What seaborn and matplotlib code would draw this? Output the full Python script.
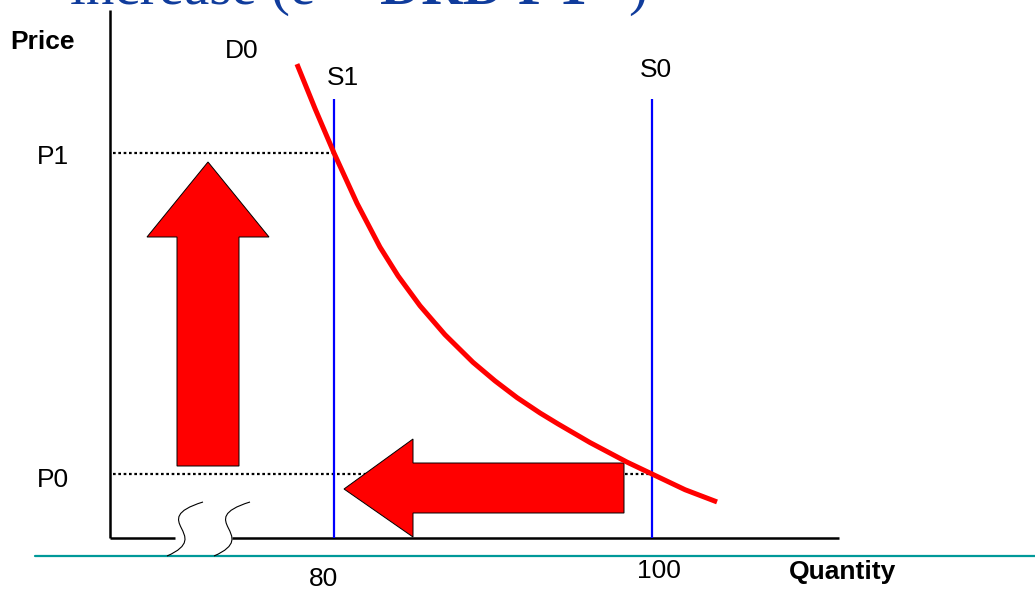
import matplotlib
matplotlib.use("Agg")
import matplotlib.pyplot as plt
import numpy as np
import pandas as pd
import seaborn as sns
from matplotlib.patches import Polygon, PathPatch
from matplotlib.path import Path

# ---------------- data ----------------
demand_quantity = [77.67, 78.81, 80.00, 81.45, 82.89, 84.03, 85.41, 86.98, 88.74,
                   90.13, 91.51, 92.96, 94.09, 96.10, 98.43, 100.00, 102.08, 104.09]
demand_price = [22.77, 21.38, 20.00, 18.43, 17.07, 16.17, 15.24, 14.34, 13.48,
                12.90, 12.38, 11.90, 11.56, 10.98, 10.37, 10.00, 9.51, 9.13]
supply_quantity = [80, 100]
supply_labels = ["S1", "S0"]
price_levels = [10, 20]
price_labels = ["P0", "P1"]
equilibrium_quantity = [100, 80]
quantity_ticks = [80, 100]
quantity_tick_labels = ["80", "100"]
demand_label = "D0"
title_text = "increase (e = "
title_bold = "DRD FY"

# ---------------- style ----------------
sns.set_theme(style="white")
plt.rcParams["font.family"] = ["Liberation Sans", "DejaVu Sans"]
plt.rcParams["text.color"] = "black"

W, H = 1035, 592
fig = plt.figure(figsize=(W / 100, H / 100), dpi=100)
ax = fig.add_axes([0, 0, 1, 1])

# pixel layout of the data scale
PX_Q80, PX_Q100 = 334, 652
PY_P1, PY_P0 = 153, 474
qs = (PX_Q100 - PX_Q80) / (100 - 80)
ps = (PY_P0 - PY_P1) / (20 - 10)


def d(px, py):
    return 80 + (px - PX_Q80) / qs, 20 - (py - PY_P1) / ps


x0, y0 = d(0, H)
x1, y1 = d(W, 0)

origin_q, origin_p = d(110, 538)
top_q, top_p = d(110, 10)
supply_top = d(0, 99)[1]

# axes lines (with break on the quantity axis)
ax.plot([origin_q, origin_q], [origin_p, top_p], color="black", lw=1.8,
        solid_capstyle="butt", zorder=3)
brk_a = d(175, 538)[0]
brk_b = d(232, 538)[0]
end_q = d(839, 538)[0]
ax.plot([origin_q, brk_a], [origin_p, origin_p], color="black", lw=1.8,
        solid_capstyle="butt", zorder=3)
ax.plot([brk_b, end_q], [origin_p, origin_p], color="black", lw=1.8,
        solid_capstyle="butt", zorder=3)

# break squiggles
for off in (0, 47):
    pts = [d(203 + off, 502), d(145 + off, 520), d(215 + off, 535), d(167 + off, 556)]
    path = Path(pts, [Path.MOVETO, Path.CURVE4, Path.CURVE4, Path.CURVE4])
    ax.add_patch(PathPatch(path, fill=False, edgecolor="black", lw=0.8, zorder=4))

# teal rule
tq0 = d(35, 556)
tq1 = d(W, 556)
ax.plot([tq0[0], tq1[0]], [tq0[1], tq1[1]], color="#009999", lw=1.6, zorder=2)

# dotted price lines
ax.hlines(price_levels, xmin=d(113, 0)[0], xmax=equilibrium_quantity,
          colors="black", linestyles=(0, (1.2, 1.2)), lw=1.6, zorder=2)

# supply lines
ax.vlines(supply_quantity, ymin=origin_p, ymax=supply_top, colors="#0000FF",
          lw=1.6, zorder=3)

# arrows
up = [(177, 466), (177, 237), (147, 237), (208, 162), (269, 237), (239, 237), (239, 466)]
left = [(624, 463), (413, 463), (413, 439), (344, 489), (413, 537), (413, 513), (624, 513)]
for shape in (up, left):
    ax.add_patch(Polygon([d(*p) for p in shape], closed=True, facecolor="#FF0000",
                         edgecolor="black", lw=0.7, zorder=5))

# demand curve
df = pd.DataFrame({"quantity": demand_quantity, "price": demand_price})
sns.lineplot(data=df, x="quantity", y="price", sort=False, estimator=None,
             color="#FF0000", linewidth=3.6, ax=ax, zorder=6)
ax.lines[-1].set_solid_capstyle("butt")
ax.lines[-1].set_solid_joinstyle("round")
ax.set_xlim(x0, x1)
ax.set_ylim(y0, y1)
ax.axis("off")

fs = 19
# labels
ax.text(*d(43, 42), "Price", fontsize=fs, fontweight="bold", ha="center", va="center")
ax.text(*d(242, 51), demand_label, fontsize=fs, ha="center", va="center")
for q, lab, lx, ly in zip(supply_quantity, supply_labels, [343, 656], [78, 70]):
    ax.text(*d(lx, ly), lab, fontsize=fs, ha="center", va="center")
for p, lab, ly in zip(price_levels, price_labels, [480, 157]):
    ax.text(*d(53, ly), lab, fontsize=fs, ha="center", va="center")
for q, lab, lx, ly in zip(quantity_ticks, quantity_tick_labels, [323, 659], [579, 571]):
    ax.text(*d(lx, ly), lab, fontsize=fs, ha="center", va="center")
ax.text(*d(842, 572), "Quantity", fontsize=fs, fontweight="bold", ha="center", va="center")

# cropped title
tc = "#103C9C"
ax.text(*d(70, 4), title_text, fontsize=41, family="Liberation Serif",
        color=tc, ha="left", va="baseline")
ax.text(*d(380, 4), title_bold, fontsize=41, family="Liberation Serif",
        fontweight="bold", color=tc, ha="left", va="baseline")
ax.text(*d(628, 4), ")", fontsize=41, family="Liberation Serif",
        color=tc, ha="left", va="baseline")

fig.savefig("out.png", dpi=100, facecolor="white")
